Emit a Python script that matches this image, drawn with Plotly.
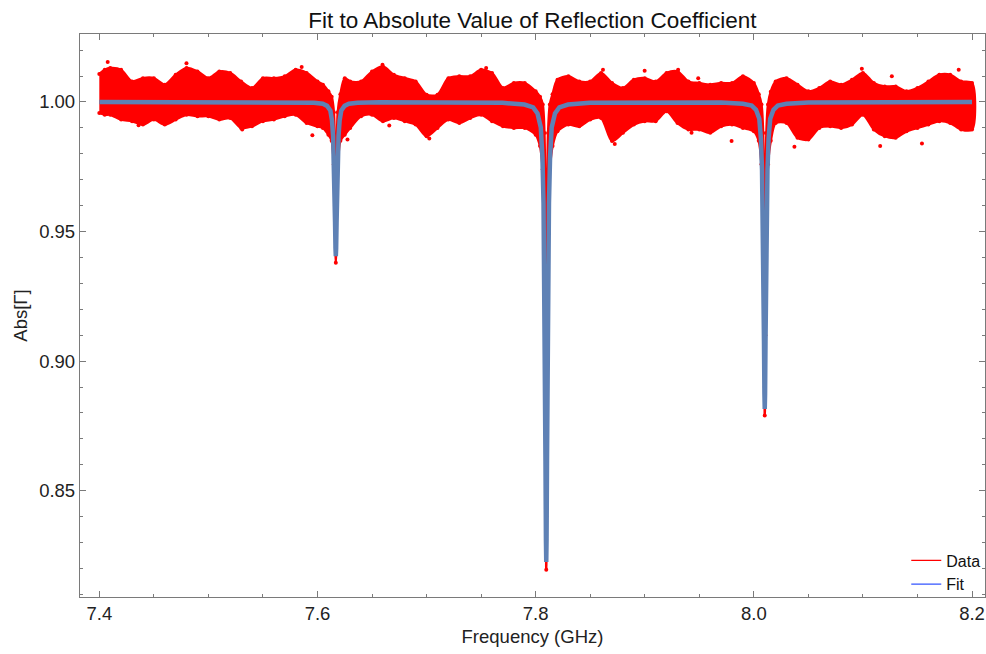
import plotly.graph_objects as go

# ---------------- data ----------------
# Envelope of the dense measured data band (GHz, upper |Gamma|, lower |Gamma|)
band_freq = [7.400, 7.405, 7.410, 7.420, 7.430, 7.440, 7.450, 7.460, 7.470, 7.480,
             7.490, 7.500, 7.510, 7.520, 7.530, 7.540, 7.550, 7.560, 7.570, 7.580,
             7.590, 7.600, 7.605, 7.610,
             7.6130, 7.6150, 7.6160, 7.6168, 7.6176, 7.6186, 7.6210,
             7.625, 7.630, 7.640, 7.650, 7.660, 7.670, 7.680, 7.690, 7.700,
             7.710, 7.720, 7.730, 7.740, 7.750, 7.760, 7.770, 7.780, 7.790, 7.800,
             7.8040, 7.8065, 7.8080, 7.8090, 7.8097, 7.8104, 7.8114, 7.8130, 7.8155,
             7.820, 7.830, 7.840, 7.850, 7.860, 7.870, 7.880, 7.890, 7.900, 7.910,
             7.920, 7.930, 7.940, 7.950, 7.960, 7.970, 7.980, 7.990, 8.000,
             8.0045, 8.0070, 8.0085, 8.0094, 8.0100, 8.0106, 8.0115, 8.0130, 8.0155,
             8.020, 8.030, 8.040, 8.050, 8.060, 8.070, 8.080, 8.090, 8.100, 8.110,
             8.120, 8.130, 8.140, 8.150, 8.160, 8.170, 8.180, 8.190, 8.200]
band_upper = [1.0108, 1.0124, 1.0131, 1.0124, 1.0079, 1.0092, 1.0092, 1.0067, 1.0105, 1.0131,
              1.0118, 1.0092, 1.0118, 1.0112, 1.0079, 1.0054, 1.0092, 1.0092, 1.0099, 1.0124,
              1.0112, 1.0079, 1.0067, 1.0041,
              1.0020, 0.9960, 0.9780, 0.9440, 0.9780, 0.9960, 1.0030,
              1.0092, 1.0079, 1.0079, 1.0118, 1.0137, 1.0105, 1.0092, 1.0079, 1.0028,
              1.0028, 1.0092, 1.0099, 1.0099, 1.0124, 1.0112, 1.0054, 1.0073, 1.0073, 1.0041,
              1.0020, 0.9990, 0.9880, 0.9500, 0.8400, 0.9500, 0.9880, 0.9990, 1.0030,
              1.0086, 1.0099, 1.0079, 1.0079, 1.0112, 1.0073, 1.0054, 1.0086, 1.0092, 1.0079,
              1.0112, 1.0118, 1.0079, 1.0073, 1.0067, 1.0073, 1.0073, 1.0099, 1.0073,
              1.0030, 0.9990, 0.9880, 0.9500, 0.8900, 0.9500, 0.9880, 0.9990, 1.0040,
              1.0079, 1.0092, 1.0067, 1.0041, 1.0054, 1.0079, 1.0067, 1.0086, 1.0112, 1.0073,
              1.0060, 1.0060, 1.0041, 1.0054, 1.0079, 1.0105, 1.0105, 1.0079, 1.0073]
band_lower = [0.9958, 0.9951, 0.9951, 0.9932, 0.9926, 0.9913, 0.9932, 0.9913, 0.9932, 0.9951,
              0.9945, 0.9945, 0.9932, 0.9938, 0.9900, 0.9906, 0.9926, 0.9932, 0.9945, 0.9951,
              0.9919, 0.9906, 0.9900, 0.9874,
              0.9850, 0.9760, 0.9600, 0.9380, 0.9600, 0.9760, 0.9850,
              0.9874, 0.9900, 0.9945, 0.9951, 0.9926, 0.9938, 0.9926, 0.9913, 0.9868,
              0.9900, 0.9932, 0.9919, 0.9938, 0.9951, 0.9926, 0.9906, 0.9900, 0.9900, 0.9874,
              0.9830, 0.9740, 0.9500, 0.8800, 0.8195, 0.8800, 0.9500, 0.9740, 0.9830,
              0.9887, 0.9913, 0.9906, 0.9932, 0.9938, 0.9849, 0.9881, 0.9913, 0.9926, 0.9926,
              0.9964, 0.9919, 0.9894, 0.9894, 0.9881, 0.9906, 0.9913, 0.9900, 0.9887,
              0.9850, 0.9760, 0.9580, 0.9100, 0.8790, 0.9100, 0.9580, 0.9760, 0.9850,
              0.9919, 0.9919, 0.9862, 0.9855, 0.9900, 0.9906, 0.9900, 0.9913, 0.9951, 0.9894,
              0.9868, 0.9862, 0.9887, 0.9900, 0.9913, 0.9926, 0.9919, 0.9894, 0.9894]

# Isolated data points outside the dense band
outlier_freq = [7.4077, 7.4799, 7.5855, 7.6596, 7.5953, 7.6275, 7.5310, 7.4360,
                7.7546, 7.7025, 7.8617, 7.8999, 7.9306, 7.8725, 7.8296, 7.6658, 7.9429,
                8.0990, 8.1878, 8.1158, 8.1541, 7.9796, 8.0372, 8.1265, 7.9490]
outlier_val = [1.0154, 1.0150, 1.0135, 1.0144, 0.9872, 0.9855, 0.9894, 0.9910,
               1.0131, 0.9859, 1.0124, 1.0121, 1.0124, 0.9838, 0.9919, 0.9909, 0.9881,
               1.0128, 1.0124, 0.9830, 0.9840, 0.9849, 0.9827, 1.0099, 1.0092]

# Fit curve: resonance centres and the shape read around each dip
dip_centres = [7.6168, 7.8097, 8.0100]
dip_offsets = [-0.04, -0.02, -0.012, -0.008, -0.005, -0.0035, -0.0025, -0.0018, -0.0012,
               -0.0007, -0.0003, 0.0, 0.0003, 0.0007, 0.0012, 0.0018, 0.0025, 0.0035,
               0.005, 0.008, 0.012, 0.02, 0.04]
dip1_fit = [0.9999, 0.9997, 0.9993, 0.9985, 0.9967, 0.9929, 0.9869, 0.9786, 0.9673,
            0.9536, 0.9435, 0.9405, 0.9435, 0.9536, 0.9673, 0.9786, 0.9869, 0.9929,
            0.9967, 0.9985, 0.9993, 0.9997, 0.9999]
dip2_fit = [0.9997, 0.9990, 0.9979, 0.9956, 0.9902, 0.9787, 0.9610, 0.9361, 0.9024,
            0.8616, 0.8314, 0.8225, 0.8314, 0.8616, 0.9024, 0.9361, 0.9610, 0.9787,
            0.9902, 0.9956, 0.9979, 0.9990, 0.9997]
dip3_fit = [0.9998, 0.9993, 0.9986, 0.9970, 0.9935, 0.9858, 0.9739, 0.9573, 0.9348,
            0.9076, 0.8874, 0.8815, 0.8874, 0.9076, 0.9348, 0.9573, 0.9739, 0.9858,
            0.9935, 0.9970, 0.9986, 0.9993, 0.9998]
fit_start, fit_end, fit_base = 7.400, 8.200, 1.0

x_ticks = [7.4, 7.6, 7.8, 8.0, 8.2]
x_tick_text = ["7.4", "7.6", "7.8", "8.0", "8.2"]
y_ticks = [0.85, 0.90, 0.95, 1.00]
y_tick_text = ["0.85", "0.90", "0.95", "1.00"]

# ---------------- build traces ----------------
FONT = "Liberation Sans, Arial, sans-serif"
RED = "#ff0000"
FITC = "#5e81b5"

fig = go.Figure()

fig.add_trace(go.Scatter(
    x=band_freq + band_freq[::-1],
    y=band_upper + band_lower[::-1],
    fill="toself", fillcolor=RED, mode="lines",
    line=dict(color=RED, width=2.5, shape="spline", smoothing=0.8),
    showlegend=False, hoverinfo="skip"))

fig.add_trace(go.Scatter(
    x=band_freq + band_freq, y=band_upper + band_lower, mode="markers",
    marker=dict(color=RED, size=4), showlegend=False, hoverinfo="skip"))
fig.add_trace(go.Scatter(
    x=outlier_freq, y=outlier_val, mode="markers",
    marker=dict(color=RED, size=4), showlegend=False, hoverinfo="skip"))

fit_x = [fit_start]
fit_y = [fit_base]
for c, shape in zip(dip_centres, [dip1_fit, dip2_fit, dip3_fit]):
    fit_x += [c + o for o in dip_offsets]
    fit_y += shape
fit_x.append(fit_end)
fit_y.append(fit_base)

fig.add_trace(go.Scatter(
    x=fit_x, y=fit_y, mode="lines",
    line=dict(color=FITC, width=4.5), showlegend=False, hoverinfo="skip"))

# legend-only entries
fig.add_trace(go.Scatter(x=[None], y=[None], mode="lines", name="Data",
                         line=dict(color=RED, width=1.3)))
fig.add_trace(go.Scatter(x=[None], y=[None], mode="lines", name="Fit",
                         line=dict(color="#3355ff", width=1.3)))

AX = "#7a7a7a"
common = dict(showline=True, linecolor=AX, linewidth=1.3, mirror="ticks",
              ticks="inside", tickcolor=AX, tickwidth=1, ticklen=6,
              showgrid=False, zeroline=False, automargin=False,
              tickfont=dict(family=FONT, size=18.5, color="#222"))

fig.update_layout(
    width=986, height=654,
    margin=dict(l=80, r=1, t=34, b=57),
    paper_bgcolor="white", plot_bgcolor="white",
    title=dict(text="Fit to Absolute Value of Reflection Coefficient",
               x=0.54, xref="container", xanchor="center",
               y=0.969, yanchor="middle",
               font=dict(family=FONT, size=22.5, color="#111")),
    xaxis=dict(range=[7.3823, 8.2119], tickvals=x_ticks, ticktext=x_tick_text,
               title=dict(text="Frequency (GHz)", standoff=6,
                          font=dict(family=FONT, size=18.5, color="#222")),
               minor=dict(dtick=0.05, tick0=7.4, ticks="inside", ticklen=3,
                          tickcolor=AX, showgrid=False),
               **common),
    yaxis=dict(range=[0.80897, 1.02624], tickvals=y_ticks, ticktext=y_tick_text,
               title=dict(text="Abs[Γ]", standoff=6,
                          font=dict(family=FONT, size=18.5, color="#222")),
               minor=dict(dtick=0.01, tick0=0.8, ticks="inside", ticklen=3,
                          tickcolor=AX, showgrid=False),
               **common),
    legend=dict(x=0.913, y=-0.008, xanchor="left", yanchor="bottom",
                bgcolor="rgba(0,0,0,0)", borderwidth=0, tracegroupgap=0,
                itemwidth=30, font=dict(family=FONT, size=16, color="#111")),
)

fig.write_html("out.html")
